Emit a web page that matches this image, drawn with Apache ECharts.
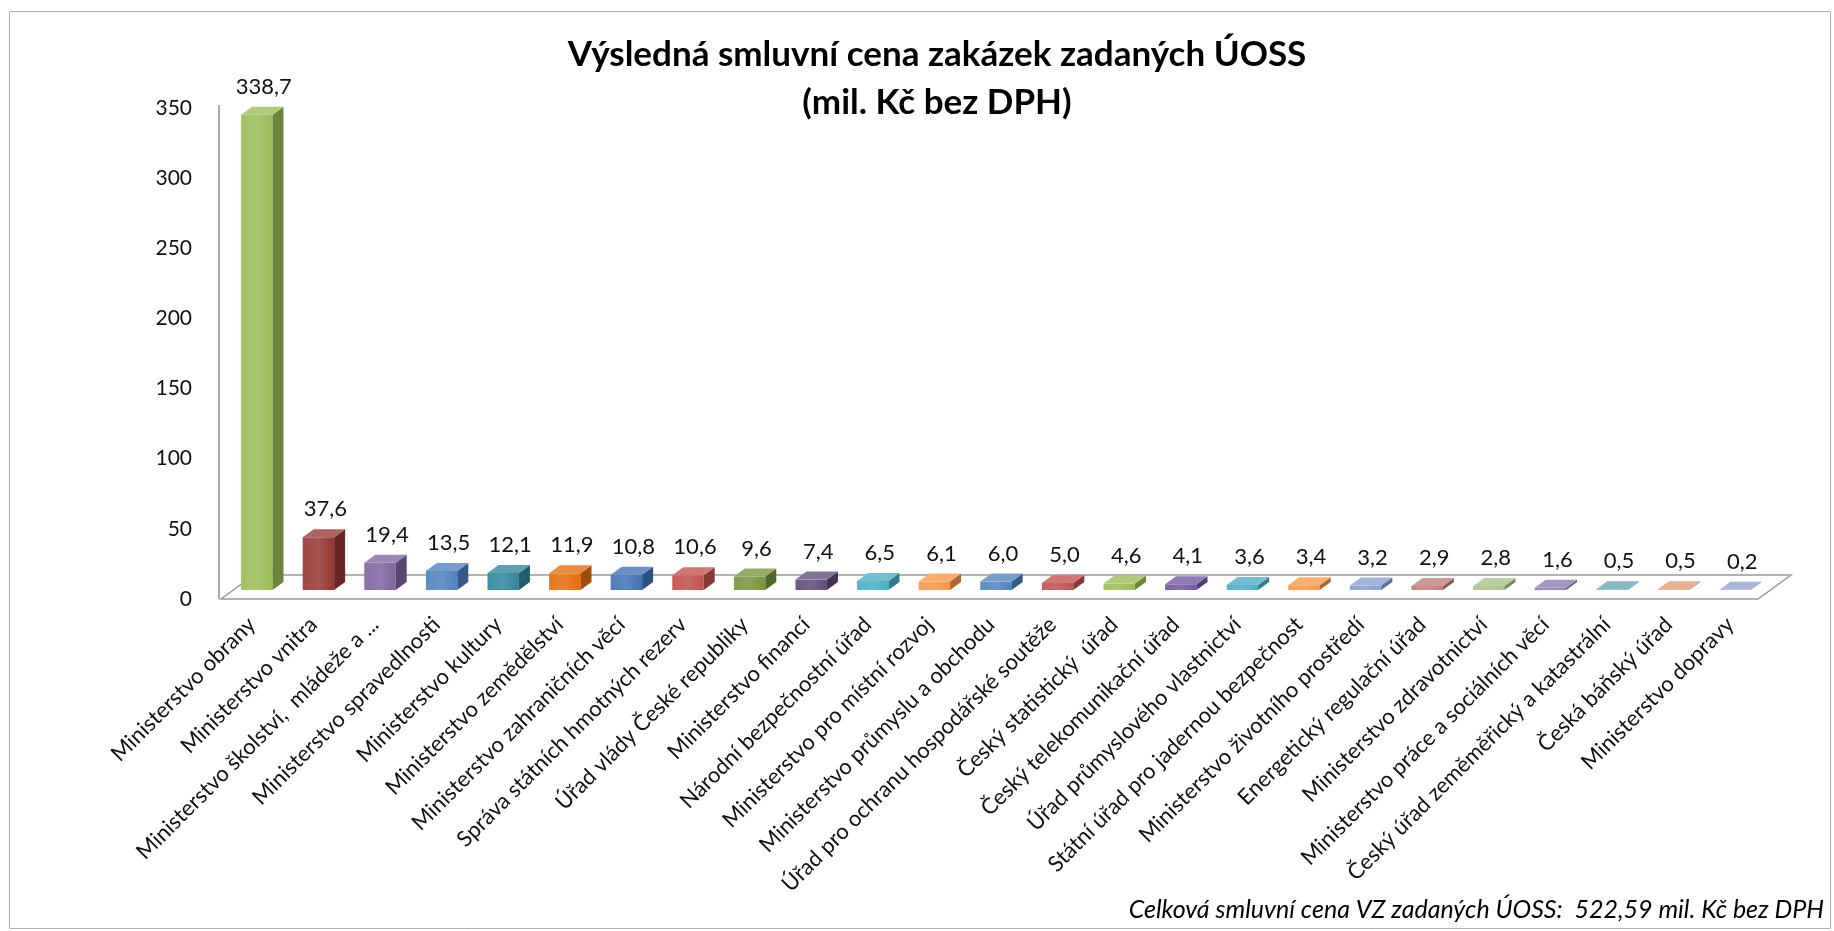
<!DOCTYPE html>
<html>
<head>
<meta charset="utf-8">
<script src="https://cdn.jsdelivr.net/npm/echarts@6/dist/echarts.min.js"></script>
<style>
  html, body { margin: 0; padding: 0; background: #fff; }
  #chart { width: 1834px; height: 931px; }
</style>
</head>
<body>
<div id="chart"></div>
<script>
// data
const categories = [
  'Ministerstvo obrany', 'Ministerstvo vnitra', 'Ministerstvo školství,  mládeže a ...',
  'Ministerstvo spravedlnosti', 'Ministerstvo kultury', 'Ministerstvo zemědělství',
  'Ministerstvo zahraničních věcí', 'Správa státních hmotných rezerv', 'Úřad vlády České republiky',
  'Ministerstvo financí', 'Národní bezpečnostní úřad', 'Ministerstvo pro místní rozvoj',
  'Ministerstvo průmyslu a obchodu', 'Úřad pro ochranu hospodářské soutěže', 'Český statistický  úřad',
  'Český telekomunikační úřad', 'Úřad průmyslového vlastnictví', 'Státní úřad pro jadernou bezpečnost',
  'Ministerstvo životního prostředí', 'Energetický regulační úřad', 'Ministerstvo zdravotnictví',
  'Ministerstvo práce a sociálních věcí', 'Český úřad zeměměřický a katastrální', 'Česká báňský úřad',
  'Ministerstvo dopravy'
]
const values = [338.7, 37.6, 19.4, 13.5, 12.1, 11.9, 10.8, 10.6, 9.6, 7.4, 6.5, 6.1, 6.0, 5.0, 4.6, 4.1, 3.6, 3.4, 3.2, 2.9, 2.8, 1.6, 0.5, 0.5, 0.2]
const yTicks = { min: 0, max: 350, interval: 50 }
const titleText = 'Výsledná smluvní cena zakázek zadaných ÚOSS\n(mil. Kč bez DPH)'
const noteText = 'Celková smluvní cena VZ zadaných ÚOSS:  522,59 mil. Kč bez DPH'

// barvy sloupců (excel 2007 paleta)
const barColors = [
  '#9bbb59', '#953735', '#8064a2', '#4f81bd', '#31859c', '#e46c0a', '#4072b4', '#c0504d',
  '#77933c', '#604a7b', '#4bacc6', '#f79646', '#4f81bd', '#c0504d', '#9bbb59', '#7057a0',
  '#4bacc6', '#f79646', '#859fd1', '#c27c7b', '#a8bf88', '#8a7bb0', '#66a3b6', '#dc9a72',
  '#949fcc'
]

const FONT = 'Lato, "Open Sans", sans-serif'
const SH = 2               // popisky kategorií jsou posunuté doprava vůči sloupcům
const OX = 7 - SH, OY = -9 // posun sloupců do hloubky podlahy
const DX = 11, DY = -8     // hloubka sloupce
const FX = 33, FY = -24    // hloubka podlahy

function shade (hex, k) {
  let c = echarts.color.parse(hex)
  let f = v => Math.max(0, Math.min(255, Math.round(k < 0 ? v * (1 + k) : v + (255 - v) * k)))
  return 'rgb(' + f(c[0]) + ',' + f(c[1]) + ',' + f(c[2]) + ')'
}

function fmt (v) {
  return v.toFixed(1).replace('.', ',')
}

let chart = echarts.init(document.getElementById('chart'))

let option = {
  animation: false,
  title: {
    text: titleText,
    left: 932,
    top: 26,
    textAlign: 'center',
    textStyle: {
      fontFamily: FONT,
      fontSize: 35,
      fontWeight: 'bold',
      color: '#000',
      lineHeight: 48
    }
  },
  graphic: [
    {
      type: 'rect',
      shape: { x: 9.5, y: 11.5, width: 1821, height: 917 },
      style: { fill: 'none', stroke: '#b0b0b0', lineWidth: 1 },
      silent: true
    },
    {
      type: 'text',
      right: 10,
      bottom: 9,
      style: {
        text: noteText,
        font: 'italic 25px ' + FONT,
        fill: '#000'
      }
    }
  ],
  grid: {
    left: 219 + SH,
    right: 75 - SH,
    top: 108,
    bottom: 332
  },
  xAxis: {
    type: 'category',
    data: categories,
    axisLine: { show: false },
    axisTick: { show: false },
    axisLabel: {
      interval: 0,
      rotate: 45,
      margin: 22,
      fontFamily: FONT,
      fontSize: 22,
      color: '#111'
    }
  },
  yAxis: {
    type: 'value',
    min: yTicks.min,
    max: yTicks.max,
    interval: yTicks.interval,
    axisLine: { show: false },
    axisTick: { show: false },
    splitLine: { show: false },
    axisLabel: {
      margin: 27 + SH,
      fontFamily: FONT,
      fontSize: 21,
      color: '#111'
    }
  },
  series: [
    {
      // podlaha a svislá osa
      type: 'custom',
      z: 1,
      silent: true,
      data: [0],
      renderItem: (params) => {
        let cs = params.coordSys
        let ax = cs.x - SH
        let fl = ax + 2, fr = cs.x + cs.width - SH - 1
        let fy = cs.y + cs.height
        return {
          type: 'group',
          children: [
            {
              type: 'polygon',
              shape: { points: [[fl, fy], [fr, fy], [fr + FX, fy + FY], [fl + FX, fy + FY]] },
              style: { fill: '#fff', stroke: '#9a9a9a', lineWidth: 1.5 }
            },
            {
              type: 'line',
              shape: { x1: ax, y1: cs.y - 3, x2: ax, y2: fy },
              style: { stroke: '#8c8c8c', lineWidth: 1.5 }
            }
          ]
        }
      }
    },
    {
      type: 'custom',
      z: 2,
      data: values.map((v, i) => [i, v]),
      encode: { x: 0, y: 1 },
      renderItem: (params, api) => {
        let i = api.value(0)
        let v = api.value(1)
        let base = api.coord([i, 0])
        let top = api.coord([i, v])
        let bw = api.size([1, 0])[0] * 0.51
        let x0 = base[0] - bw / 2 + OX
        let x1 = x0 + bw
        let yb = base[1] + OY
        let yt = top[1] + OY
        let c = barColors[i % barColors.length]
        return {
          type: 'group',
          children: [
            {
              type: 'rect',
              shape: { x: x0, y: yt, width: bw, height: yb - yt },
              style: {
                fill: new echarts.graphic.LinearGradient(0, 0, 1, 0, [
                  { offset: 0, color: shade(c, 0.08) },
                  { offset: 0.5, color: shade(c, 0.15) },
                  { offset: 1, color: c }
                ])
              }
            },
            {
              type: 'polygon',
              shape: { points: [[x1, yb], [x1 + DX, yb + DY], [x1 + DX, yt + DY], [x1, yt]] },
              style: { fill: shade(c, -0.3) }
            },
            {
              type: 'polygon',
              shape: { points: [[x0, yt], [x1, yt], [x1 + DX, yt + DY], [x0 + DX, yt + DY]] },
              style: { fill: shade(c, 0.22) }
            },
            {
              type: 'text',
              style: {
                text: fmt(v),
                x: (x0 + x1) / 2 + 7,
                y: yt - 28,
                align: 'center',
                verticalAlign: 'middle',
                textAlign: 'center',
                textVerticalAlign: 'middle',
                font: '22px ' + FONT,
                fill: '#111'
              }
            }
          ]
        }
      }
    }
  ]
}

chart.setOption(option)
</script>
</body>
</html>
